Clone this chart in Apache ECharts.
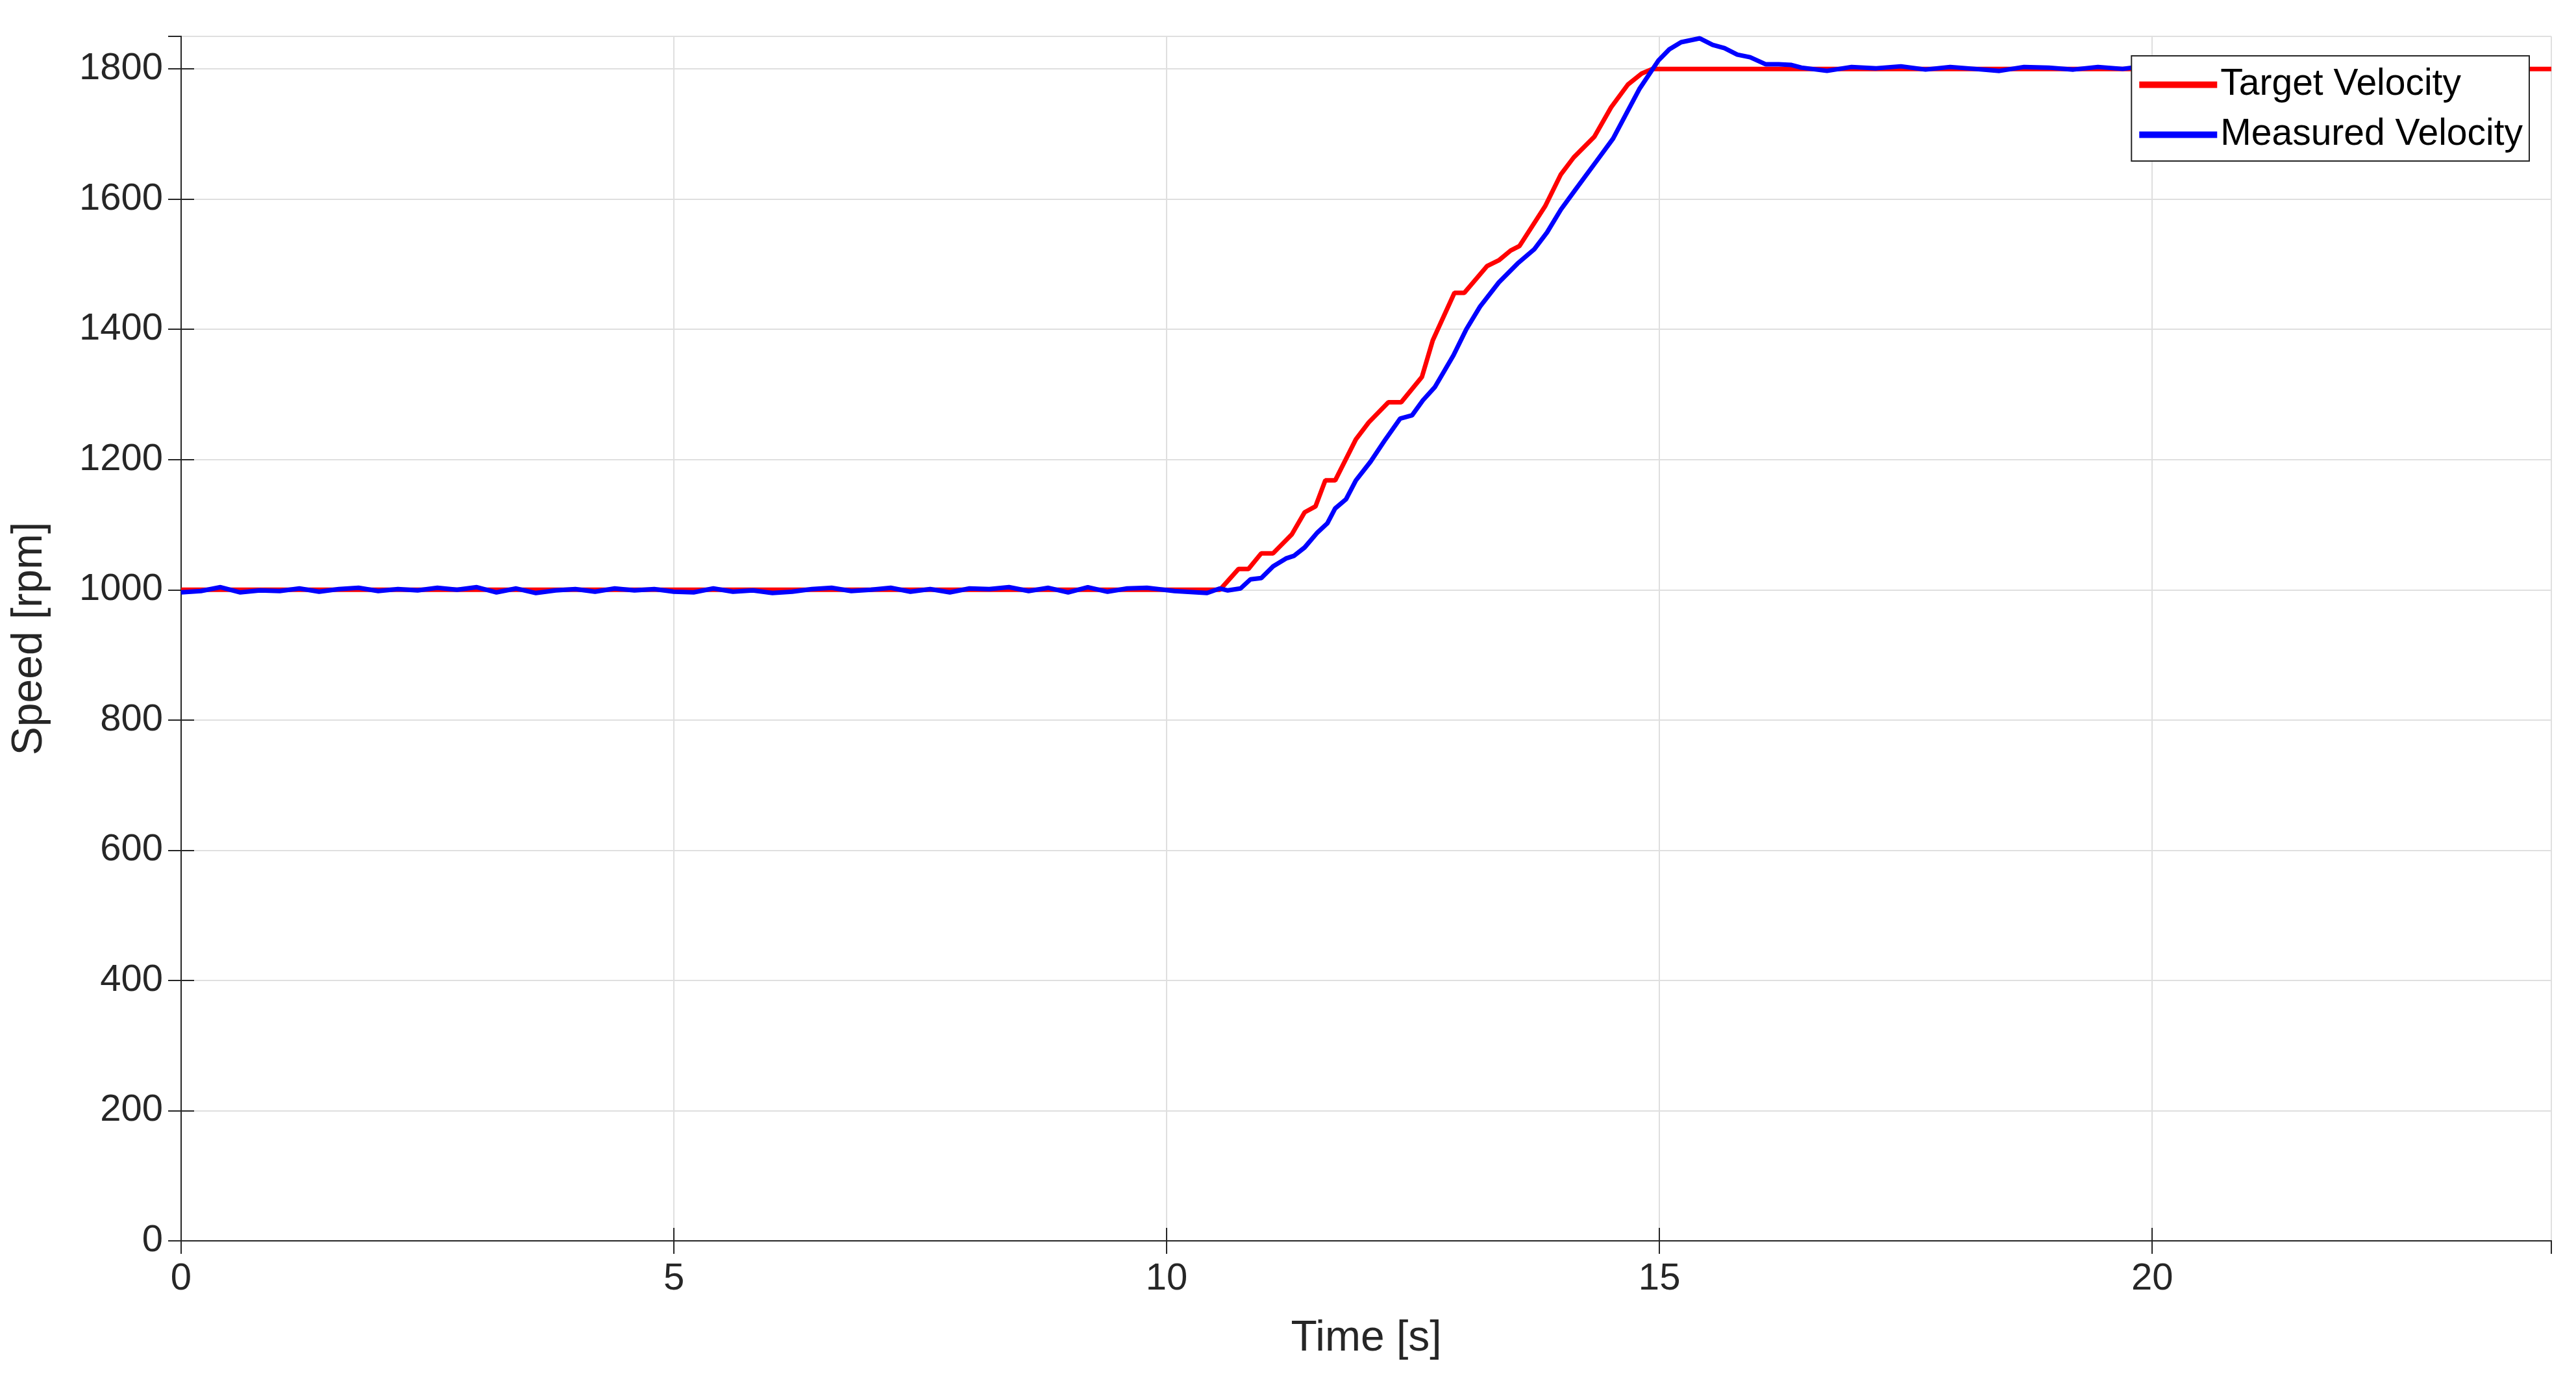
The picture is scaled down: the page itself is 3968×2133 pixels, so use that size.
<!DOCTYPE html>
<html><head><meta charset="utf-8">
<script src="https://cdn.jsdelivr.net/npm/echarts@6/dist/echarts.min.js"></script>
<style>html,body{margin:0;padding:0;background:#fff}#c{width:3968px;height:2133px}</style>
</head><body><div id="c"></div>
<script>
const targetTime = [0, 10.0, 10.45, 10.54, 10.73, 10.83, 10.96, 11.08, 11.27, 11.40, 11.51, 11.61, 11.71, 11.92, 12.05, 12.25, 12.38, 12.59, 12.70, 12.92, 13.02, 13.25, 13.37, 13.49, 13.58, 13.84, 14.00, 14.13, 14.34, 14.51, 14.68, 14.82, 14.93, 24.05];
const targetVel = [1000, 1000, 1000, 1000, 1032, 1032, 1056, 1056, 1085, 1119, 1128, 1168, 1168, 1231, 1257, 1288, 1288, 1327, 1383, 1456, 1456, 1497, 1506, 1521, 1528, 1589, 1638, 1664, 1696, 1741, 1776, 1793, 1800, 1800];
const measTime = [0,0.2,0.4,0.6,0.8,1.0,1.2,1.4,1.6,1.8,2.0,2.2,2.4,2.6,2.8,3.0,3.2,3.4,3.6,3.8,4.0,4.2,4.4,4.6,4.8,5.0,5.2,5.4,5.6,5.8,6.0,6.2,6.4,6.6,6.8,7.0,7.2,7.4,7.6,7.8,8.0,8.2,8.4,8.6,8.8,9.0,9.2,9.4,9.6,9.8,10.08,10.41,10.54,10.62,10.75,10.85,10.96,11.08,11.21,11.29,11.40,11.53,11.63,11.71,11.82,11.92,12.07,12.22,12.37,12.49,12.60,12.72,12.91,13.04,13.18,13.37,13.56,13.73,13.86,14.00,14.15,14.36,14.53,14.68,14.80,14.99,15.10,15.22,15.41,15.54,15.66,15.79,15.92,16.08,16.21,16.34,16.44,16.7,16.95,17.2,17.45,17.7,17.95,18.2,18.45,18.7,18.95,19.2,19.45,19.7,19.95,20.2,20.45,20.7,20.95,21.2,21.45,21.7,21.95,22.2,22.45,22.7,22.95,23.2,23.45,23.7,23.85,24.05];
const measVel = [996,998,1004,996,999,998,1002,997,1001,1003,998,1001,999,1003,1000,1004,996,1002,995,999,1001,997,1002,999,1001,997,996,1002,997,999,995,997,1001,1003,998,1000,1003,997,1001,996,1002,1001,1004,998,1003,996,1004,997,1002,1003,998,995,1002,999,1002,1016,1018,1036,1048,1052,1065,1088,1102,1125,1139,1168,1197,1231,1263,1268,1291,1311,1360,1400,1435,1472,1501,1523,1549,1584,1615,1658,1693,1736,1770,1813,1830,1841,1847,1837,1832,1822,1818,1807,1807,1806,1802,1797,1803,1801,1804,1799,1803,1800,1797,1803,1802,1799,1803,1800,1805,1801,1798,1803,1800,1796,1802,1804,1799,1801,1803,1800,1798,1802,1797,1798];

const font = 'Liberation Sans, Arial, sans-serif';
const chart = echarts.init(document.getElementById('c'));
const tick = () => ({show:true, inside:true, length:20, lineStyle:{color:'#262626', width:2}});
const line = () => ({show:true, lineStyle:{color:'#262626', width:2}});
chart.setOption({
  animation:false,
  grid:{left:279, right:38, top:56, bottom:222},
  legend:{
    top:86, right:72, orient:'vertical', itemWidth:120, itemHeight:10, itemGap:20,
    padding:[16,10,12,12], borderColor:'#262626', borderWidth:2, backgroundColor:'#fff',
    textStyle:{fontFamily:font, fontSize:57, color:'#000'},
    icon:'rect',
    data:['Target Velocity','Measured Velocity']
  },
  xAxis:[{
    type:'value', min:0, max:24.05, interval:5,
    name:'Time [s]', nameLocation:'middle', nameGap:118,
    nameTextStyle:{fontFamily:font, fontSize:66, color:'#262626'},
    axisLabel:{fontFamily:font, fontSize:58, color:'#262626', margin:30, showMaxLabel:false},
    axisTick:tick(), axisLine:line(),
    splitLine:{show:true, lineStyle:{color:'#dfdfdf', width:2}}
  },{
    type:'value', min:0, max:24.05, interval:5, position:'top',
    axisLabel:{show:false}, axisTick:tick(), axisLine:line(), splitLine:{show:false}
  }],
  yAxis:[{
    type:'value', min:0, max:1850, interval:200,
    name:'Speed [rpm]', nameLocation:'middle', nameGap:200,
    nameTextStyle:{fontFamily:font, fontSize:66, color:'#262626'},
    axisLabel:{fontFamily:font, fontSize:58, color:'#262626', margin:28, showMaxLabel:false,
      formatter:v=>String(v)},
    axisTick:tick(), axisLine:line(),
    splitLine:{show:true, lineStyle:{color:'#dfdfdf', width:2}}
  },{
    type:'value', min:0, max:1850, interval:200, position:'right',
    axisLabel:{show:false}, axisTick:tick(), axisLine:line(), splitLine:{show:false}
  }],
  series:[{
    name:'Target Velocity', type:'line', showSymbol:false, symbol:'none',
    color:'#ff0000', lineStyle:{width:7, color:'#ff0000'},
    data:targetTime.map((t,i)=>[t,targetVel[i]])
  },{
    name:'Measured Velocity', type:'line', showSymbol:false, symbol:'none',
    color:'#0000ff', lineStyle:{width:7, color:'#0000ff'},
    data:measTime.map((t,i)=>[t,measVel[i]])
  }]
});
</script></body></html>
